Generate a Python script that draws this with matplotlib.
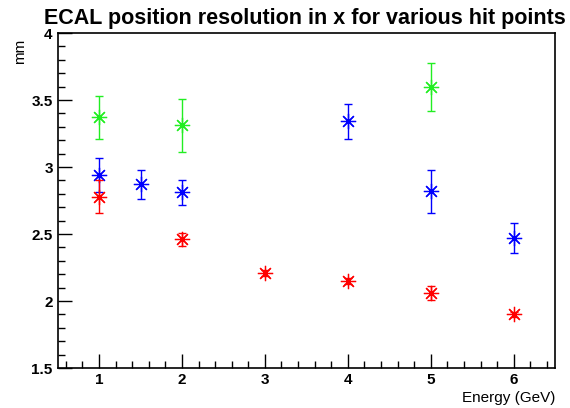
import matplotlib
matplotlib.use('Agg')
import matplotlib.pyplot as plt
from matplotlib.ticker import MultipleLocator, FormatStrFormatter

plt.rcParams['font.family'] = ['Liberation Sans', 'DejaVu Sans']

# green series
green_e = [1, 2, 5]
green_res = [3.37, 3.31, 3.60]
green_err = [0.16, 0.20, 0.18]

# blue series
blue_e = [1, 1.5, 2, 4, 5, 6]
blue_res = [2.94, 2.87, 2.81, 3.34, 2.82, 2.47]
blue_err = [0.13, 0.11, 0.09, 0.13, 0.16, 0.11]

# red series
red_e = [1, 2, 3, 4, 5, 6]
red_res = [2.78, 2.46, 2.21, 2.15, 2.06, 1.90]
red_err = [0.12, 0.05, 0.02, 0.02, 0.05, 0.02]

fig = plt.figure(figsize=(5.7, 4.08), dpi=100)
ax = fig.add_axes([0.101, 0.098, 0.873, 0.821])

star = (8, 2, 0)
for e, r, err, col in [(green_e, green_res, green_err, '#22ee22'),
                       (blue_e, blue_res, blue_err, '#0000ff'),
                       (red_e, red_res, red_err, '#ff0000')]:
    ax.errorbar(e, r, yerr=err, fmt='none', ecolor=col, elinewidth=1.0,
                capsize=3, capthick=1.0)
    ax.plot(e, r, linestyle='none', marker=star, markersize=11,
            markeredgewidth=0.9, color=col)

ax.set_xlim(0.5, 6.5)
ax.set_ylim(1.5, 4)
ax.xaxis.set_major_locator(MultipleLocator(1))
ax.xaxis.set_minor_locator(MultipleLocator(0.2))
ax.yaxis.set_major_locator(MultipleLocator(0.5))
ax.yaxis.set_minor_locator(MultipleLocator(0.1))
ax.yaxis.set_major_formatter(FormatStrFormatter('%g'))
ax.tick_params(which='both', direction='in', top=False, right=False,
               labelsize=11, width=1)
ax.tick_params(which='major', length=10)
ax.tick_params(which='minor', length=5)
for lab in ax.get_xticklabels() + ax.get_yticklabels():
    lab.set_fontweight('bold')
for s in ax.spines.values():
    s.set_linewidth(1.2)

fig.text(0.535, 0.955, 'ECAL position resolution in x for various hit points',
         ha='center', va='center', fontsize=15.5, fontweight='bold')
fig.text(0.974, 0.008, 'Energy (GeV)', ha='right', va='bottom', fontsize=11)
fig.text(0.035, 0.905, 'mm', ha='center', va='top', rotation=90, fontsize=11)

fig.savefig('out.png', dpi=100)
